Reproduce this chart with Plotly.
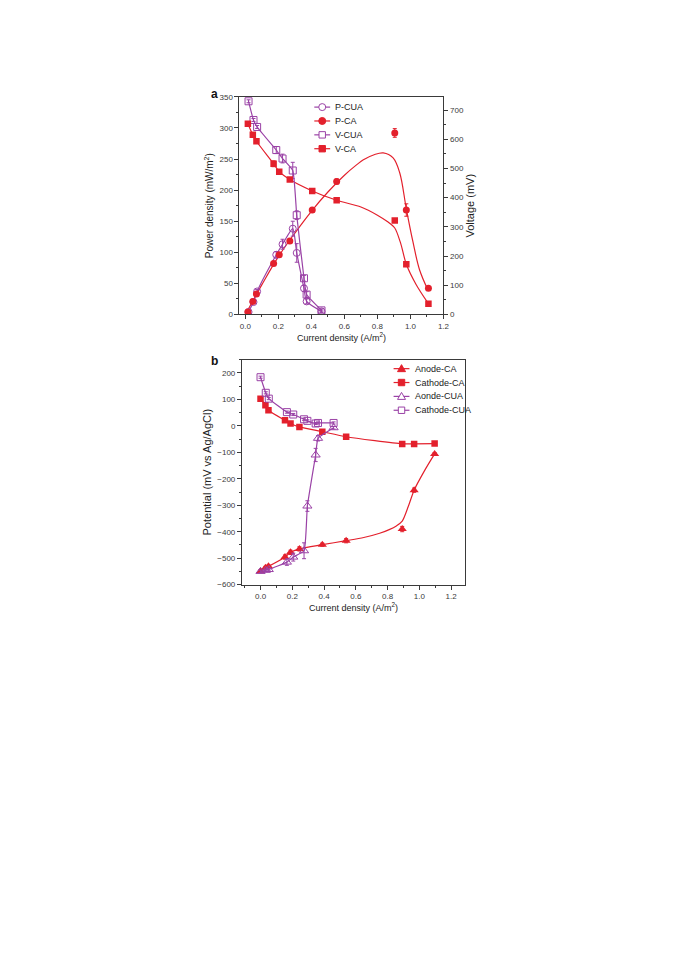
import plotly.graph_objects as go

# ---------------- Panel a data ----------------
cua_x_a = [0.019, 0.049, 0.071, 0.187, 0.225, 0.287, 0.311, 0.355, 0.371, 0.461]
p_cua = [4, 20, 37, 96, 113, 138, 99, 42, 21, 5]
p_cua_err = [1, 2, 3, 5, 8, 12, 15, 5, 4, 2]
v_cua = [730, 666, 642, 563, 534, 493, 340, 124, 68, 14]
v_cua_err = [5, 5, 5, 12, 15, 28, 15, 10, 10, 5]

ca_x_a = [0.015, 0.045, 0.067, 0.171, 0.205, 0.269, 0.405, 0.553, 0.905, 0.975, 1.109]
p_ca = [4, 21, 33, 82, 96, 118, 168, 214, 292, 168, 42]
p_ca_err = [1, 2, 2, 3, 3, 3, 3, 4, 7, 10, 3]
v_ca = [653, 615, 593, 516, 489, 462, 423, 391, 322, 172, 37]
v_ca_err = [5, 5, 5, 10, 5, 5, 5, 5, 6, 8, 4]

# fitted curves
p_ca_fit_x = [0.0, 0.1, 0.2, 0.3, 0.4, 0.5, 0.6, 0.675, 0.715, 0.78, 0.835, 0.895, 0.935, 0.975, 1.015, 1.055, 1.105]
p_ca_fit_y = [0, 48, 93, 131, 166, 197, 224, 241, 249, 257, 260, 252, 228, 170, 117, 72, 40]
v_ca_fit_x = [0.015, 0.045, 0.067, 0.171, 0.205, 0.269, 0.405, 0.553, 0.7, 0.8, 0.86, 0.905, 0.94, 0.975, 1.035, 1.109]
v_ca_fit_y = [653, 615, 593, 516, 489, 462, 423, 391, 368, 340, 318, 296, 245, 172, 102, 37]

# ---------------- Panel b data ----------------
cua_x_b = [0.0, 0.033, 0.052, 0.166, 0.206, 0.274, 0.295, 0.347, 0.362, 0.46]
anode_cua = [-550, -546, -543, -515, -496, -472, -303, -110, -47, -7]
anode_cua_err = [5, 5, 5, 12, 15, 30, 20, 25, 10, 5]
cathode_cua = [184, 125, 103, 52, 43, 25, 19, 9, 11, 11]
cathode_cua_err = [4, 4, 4, 4, 4, 4, 4, 4, 4, 4]

ca_x_b = [0.0, 0.031, 0.05, 0.154, 0.189, 0.245, 0.389, 0.539, 0.892, 0.967, 1.096]
anode_ca = [-549, -536, -531, -496, -478, -465, -449, -434, -390, -243, -106]
anode_ca_err = [5, 5, 5, 8, 8, 8, 6, 8, 10, 8, 5]
cathode_ca = [103, 78, 59, 21, 9, -4, -22, -41, -68, -68, -67]
cathode_ca_err = [3, 3, 3, 3, 3, 3, 3, 3, 3, 3, 3]

anode_ca_fit_x = [0.0, 0.031, 0.05, 0.154, 0.189, 0.245, 0.389, 0.539, 0.65, 0.75, 0.81, 0.855, 0.892, 0.93, 0.967, 1.03, 1.096]
anode_ca_fit_y = [-549, -536, -531, -496, -478, -465, -449, -434, -422, -406, -392, -378, -360, -305, -243, -172, -106]

legend_a = ["P-CUA", "P-CA", "V-CUA", "V-CA"]
legend_b = ["Anode-CA", "Cathode-CA", "Aonde-CUA", "Cathode-CUA"]

RED = "#e3202c"
PUR = "#9a42a6"
AX = "#3a3a3a"
FONT = "Liberation Sans, Arial, sans-serif"

W, H = 685, 968
OFF = 8  # page body margin


def px(x):
    return (x - OFF) / W


def py(y):
    return 1 - (y - OFF) / H


def err(arr, color):
    return dict(type="data", array=arr, visible=True, color=color, thickness=1, width=2)


fig = go.Figure()

# ---- panel a ----
fig.add_trace(go.Scatter(x=p_ca_fit_x, y=p_ca_fit_y, mode="lines", line=dict(color=RED, width=1.2, shape="spline", smoothing=1.0),
                         xaxis="x", yaxis="y", showlegend=False, hoverinfo="skip"))
fig.add_trace(go.Scatter(x=v_ca_fit_x, y=v_ca_fit_y, mode="lines", line=dict(color=RED, width=1.2, shape="spline", smoothing=0.8),
                         xaxis="x", yaxis="y2", showlegend=False, hoverinfo="skip"))
fig.add_trace(go.Scatter(x=cua_x_a, y=p_cua, error_y=err(p_cua_err, PUR), mode="lines+markers", name="P-CUA",
                         line=dict(color=PUR, width=1.2, shape="spline", smoothing=0.6),
                         marker=dict(symbol="circle-open", size=7, color=PUR, line=dict(width=1)),
                         xaxis="x", yaxis="y", showlegend=False))
fig.add_trace(go.Scatter(x=ca_x_a, y=p_ca, error_y=err(p_ca_err, RED), mode="markers", name="P-CA",
                         marker=dict(symbol="circle", size=7, color=RED),
                         xaxis="x", yaxis="y", showlegend=False))
fig.add_trace(go.Scatter(x=cua_x_a, y=v_cua, error_y=err(v_cua_err, PUR), mode="lines+markers", name="V-CUA",
                         line=dict(color=PUR, width=1.2, shape="spline", smoothing=0.4),
                         marker=dict(symbol="square-open", size=7, color=PUR, line=dict(width=1)),
                         xaxis="x", yaxis="y2", showlegend=False))
fig.add_trace(go.Scatter(x=ca_x_a, y=v_ca, error_y=err(v_ca_err, RED), mode="markers", name="V-CA",
                         marker=dict(symbol="square", size=6.5, color=RED),
                         xaxis="x", yaxis="y2", showlegend=False))

# ---- panel b ----
fig.add_trace(go.Scatter(x=anode_ca_fit_x, y=anode_ca_fit_y, mode="lines", line=dict(color=RED, width=1.2, shape="spline", smoothing=0.8),
                         xaxis="x2", yaxis="y3", showlegend=False, hoverinfo="skip"))
fig.add_trace(go.Scatter(x=ca_x_b, y=anode_ca, error_y=err(anode_ca_err, RED), mode="markers", name="Anode-CA",
                         marker=dict(symbol="triangle-up", size=8, color=RED),
                         xaxis="x2", yaxis="y3", showlegend=False))
fig.add_trace(go.Scatter(x=ca_x_b, y=cathode_ca, error_y=err(cathode_ca_err, RED), mode="lines+markers", name="Cathode-CA",
                         line=dict(color=RED, width=1.2, shape="spline", smoothing=0.6),
                         marker=dict(symbol="square", size=6.5, color=RED),
                         xaxis="x2", yaxis="y3", showlegend=False))
fig.add_trace(go.Scatter(x=cua_x_b, y=anode_cua, error_y=err(anode_cua_err, PUR), mode="lines+markers", name="Aonde-CUA",
                         line=dict(color=PUR, width=1.2, shape="spline", smoothing=0.4),
                         marker=dict(symbol="triangle-up-open", size=8, color=PUR, line=dict(width=1)),
                         xaxis="x2", yaxis="y3", showlegend=False))
fig.add_trace(go.Scatter(x=cua_x_b, y=cathode_cua, error_y=err(cathode_cua_err, PUR), mode="lines+markers", name="Cathode-CUA",
                         line=dict(color=PUR, width=1.2, shape="spline", smoothing=0.4),
                         marker=dict(symbol="square-open", size=7, color=PUR, line=dict(width=1)),
                         xaxis="x2", yaxis="y3", showlegend=False))

tickfont = dict(family=FONT, size=8, color=AX)


def axstyle(**kw):
    d = dict(showline=True, linecolor=AX, linewidth=1, ticks="outside", ticklen=4, tickwidth=1, tickcolor=AX,
             showgrid=False, zeroline=False, tickfont=tickfont)
    d.update(kw)
    return d


fig.update_layout(
    width=W, height=H, autosize=False,
    margin=dict(l=0, r=0, t=0, b=0),
    paper_bgcolor="white", plot_bgcolor="white",
    showlegend=False,
    xaxis=axstyle(domain=[px(241.5), px(447.3)], range=[-0.036, 1.2], dtick=0.2, tick0=0, tickformat=".1f",
                  mirror=True, anchor="y",
                  minor=dict(ticks="outside", ticklen=2, dtick=0.1, tickcolor=AX),
                  title=dict(text="Current density (A/m<sup>2</sup>)", font=dict(family=FONT, size=9, color="#222"), standoff=3)),
    yaxis=axstyle(domain=[py(313.3), py(93.7)], range=[0, 350], dtick=50, anchor="x",
                  minor=dict(ticks="outside", ticklen=2, dtick=25, tickcolor=AX),
                  title=dict(text="Power density (mW/m<sup>2</sup>)", font=dict(family=FONT, size=10, color="#222"), standoff=3)),
    yaxis2=axstyle(overlaying="y", side="right", range=[0, 745], dtick=100, anchor="x",
                   minor=dict(ticks="outside", ticklen=2, dtick=50, tickcolor=AX),
                   title=dict(text="Voltage (mV)", font=dict(family=FONT, size=11, color="#222"), standoff=3)),
    xaxis2=axstyle(domain=[px(244), px(469)], range=[-0.117, 1.287], dtick=0.2, tick0=0, tickformat=".1f",
                   mirror=True, anchor="y3",
                   minor=dict(ticks="outside", ticklen=2, dtick=0.1, tickcolor=AX),
                   title=dict(text="Current density (A/m<sup>2</sup>)", font=dict(family=FONT, size=9, color="#222"), standoff=3)),
    yaxis3=axstyle(domain=[py(586), py(359)], range=[-600, 250], dtick=100, mirror=True, anchor="x2",
                   minor=dict(ticks="outside", ticklen=2, dtick=50, tickcolor=AX),
                   title=dict(text="Potential (mV vs Ag/AgCl)", font=dict(family=FONT, size=11, color="#222"), standoff=3)),
)

annotations = [
    dict(text="<b>a</b>", x=px(216), y=py(91), xref="paper", yref="paper", showarrow=False,
         font=dict(family=FONT, size=12, color="#111"), xanchor="center", yanchor="middle"),
    dict(text="<b>b</b>", x=px(216), y=py(360), xref="paper", yref="paper", showarrow=False,
         font=dict(family=FONT, size=12, color="#111"), xanchor="center", yanchor="middle"),
]
shapes = []


def legend_entry(label, row_y, x0, x1, xt, color, kind, filled):
    yy = py(row_y)
    shapes.append(dict(type="line", xref="paper", yref="paper", x0=px(x0), x1=px(x1), y0=yy, y1=yy,
                       line=dict(color=color, width=1.2)))
    xc = px((x0 + x1) / 2)
    fill = color if filled else "white"
    base = dict(xref="paper", yref="paper", xsizemode="pixel", ysizemode="pixel", xanchor=xc, yanchor=yy,
                fillcolor=fill, line=dict(color=color, width=1))
    if kind == "circle":
        shapes.append(dict(type="circle", x0=-3.5, x1=3.5, y0=-3.5, y1=3.5, **base))
    elif kind == "square":
        shapes.append(dict(type="rect", x0=-3.2, x1=3.2, y0=-3.2, y1=3.2, **base))
    else:
        shapes.append(dict(type="path", path="M -4,-3 L 4,-3 L 0,4 Z", **base))
    annotations.append(dict(text=label, x=px(xt), y=yy, xref="paper", yref="paper", showarrow=False,
                            xanchor="left", yanchor="middle", font=dict(family=FONT, size=9, color="#222")))


kinds_a = [("circle", False, PUR), ("circle", True, RED), ("square", False, PUR), ("square", True, RED)]
for i, (lab, (k, f, c)) in enumerate(zip(legend_a, kinds_a)):
    legend_entry(lab, 104 + 14 * i, 317, 333, 336, c, k, f)

kinds_b = [("tri", True, RED), ("square", True, RED), ("tri", False, PUR), ("square", False, PUR)]
for i, (lab, (k, f, c)) in enumerate(zip(legend_b, kinds_b)):
    legend_entry(lab, 368 + 14 * i, 397, 413, 417, c, k, f)

fig.update_layout(annotations=annotations, shapes=shapes)

fig.write_html("out.html")
